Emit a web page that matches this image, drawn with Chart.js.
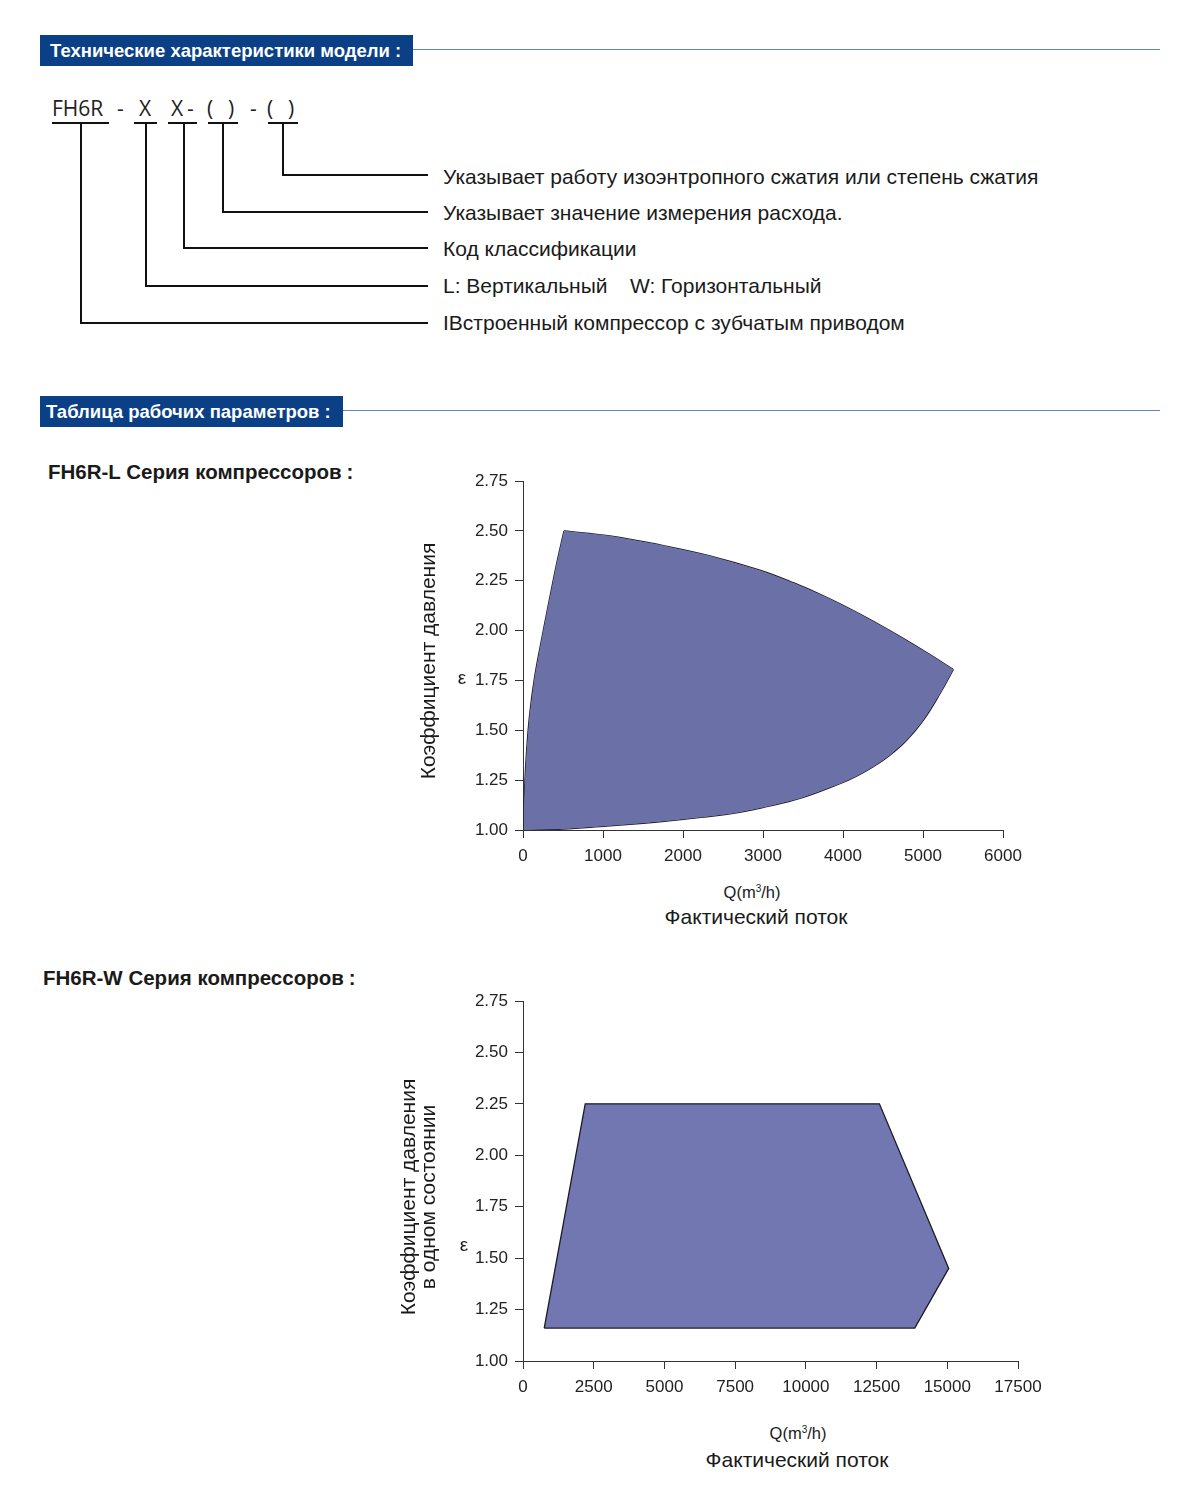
<!DOCTYPE html>
<html>
<head>
<meta charset="utf-8">
<script src="https://cdn.jsdelivr.net/npm/chart.js@4.4.1/dist/chart.umd.min.js"></script>
<style>
body{margin:0;background:#fff;}
#page{position:relative;width:1200px;height:1501px;font-family:"Liberation Sans",Arial,sans-serif;color:#1a1a1a;overflow:hidden;}
.a{position:absolute;white-space:pre;line-height:1;}
.hbox{position:absolute;background:#0b3f86;color:#fff;font-weight:bold;font-size:18.5px;height:31px;line-height:31px;}
.hline{position:absolute;height:1px;background:#5b86c0;}
.ln{position:absolute;background:#111;}
.code{font-family:"Open Sans","Liberation Sans",sans-serif;font-size:21px;color:#222;}
.desc{font-size:21px;font-family:"Liberation Sans",Arial,sans-serif;}
.sub{font-weight:bold;font-size:20.5px;}
.c{transform:translate(-50%,-50%);}
.rot{transform:translate(-50%,-50%) rotate(-90deg);text-align:center;}
.col{margin-left:5px;}
canvas{position:absolute;}
</style>
</head>
<body>
<div id="page">
  <!-- заголовок 1 -->
  <div class="hbox" style="left:40px;top:35px;width:363px;padding-left:10px;">Технические характеристики модели<span class="col">:</span></div>
  <div class="hline" style="left:413px;top:49px;width:747px;"></div>

  <!-- схема обозначения -->
  <div class="a code" style="left:52px;top:98px;">FH6R</div>
  <div class="a code" style="left:117px;top:98px;">-</div>
  <div class="a code" style="left:139px;top:98px;">X</div>
  <div class="a code" style="left:171px;top:98px;">X</div>
  <div class="a code" style="left:187px;top:98px;">-</div>
  <div class="a code" style="left:207px;top:98px;">(</div>
  <div class="a code" style="left:228px;top:98px;">)</div>
  <div class="a code" style="left:250px;top:98px;">-</div>
  <div class="a code" style="left:267px;top:98px;">(</div>
  <div class="a code" style="left:288px;top:98px;">)</div>

  <div class="ln" style="left:52px;top:122px;width:57px;height:2px;"></div>
  <div class="ln" style="left:134px;top:122px;width:23px;height:2px;"></div>
  <div class="ln" style="left:168px;top:122px;width:29px;height:2px;"></div>
  <div class="ln" style="left:208px;top:122px;width:30px;height:2px;"></div>
  <div class="ln" style="left:268px;top:122px;width:30px;height:2px;"></div>

  <div class="ln" style="left:282px;top:122px;width:2px;height:54px;"></div>
  <div class="ln" style="left:282px;top:174px;width:146px;height:2px;"></div>
  <div class="ln" style="left:222px;top:122px;width:2px;height:90px;"></div>
  <div class="ln" style="left:222px;top:211px;width:206px;height:2px;"></div>
  <div class="ln" style="left:183px;top:122px;width:2px;height:127px;"></div>
  <div class="ln" style="left:183px;top:247px;width:245px;height:2px;"></div>
  <div class="ln" style="left:145px;top:122px;width:2px;height:165px;"></div>
  <div class="ln" style="left:145px;top:285px;width:283px;height:2px;"></div>
  <div class="ln" style="left:80px;top:122px;width:2px;height:202px;"></div>
  <div class="ln" style="left:80px;top:322px;width:348px;height:2px;"></div>

  <div class="a desc" style="left:443px;top:166px;">Указывает работу изоэнтропного сжатия или степень сжатия</div>
  <div class="a desc" style="left:443px;top:202px;">Указывает значение измерения расхода.</div>
  <div class="a desc" style="left:443px;top:238px;">Код классификации</div>
  <div class="a desc" style="left:443px;top:275px;">L: Вертикальный</div>
  <div class="a desc" style="left:630px;top:275px;">W: Горизонтальный</div>
  <div class="a desc" style="left:443px;top:312px;">IВстроенный компрессор с зубчатым приводом</div>

  <!-- заголовок 2 -->
  <div class="hbox" style="left:40px;top:396px;width:297px;padding-left:6px;">Таблица рабочих параметров<span class="col">:</span></div>
  <div class="hline" style="left:343px;top:410px;width:817px;"></div>

  <div class="a sub" style="left:48px;top:462px;">FH6R-L Серия компрессоров<span class="col">:</span></div>
  <div class="a sub" style="left:43px;top:968px;">FH6R-W Серия компрессоров<span class="col">:</span></div>

  <!-- график L -->
  <canvas id="chartL" width="660" height="410" style="left:380px;top:460px;"></canvas>
  <div class="a rot" style="left:427px;top:661px;font-size:21px;">Коэффициент давления</div>
  <div class="a c" style="left:462px;top:677px;font-size:19px;">ε</div>
  <div class="a c" style="left:752px;top:892px;font-size:16.5px;">Q(m<sup style="font-size:10px;">3</sup>/h)</div>
  <div class="a c" style="left:756px;top:916px;font-size:21px;">Фактический поток</div>

  <!-- график W -->
  <canvas id="chartW" width="680" height="420" style="left:380px;top:980px;"></canvas>
  <div class="a rot" style="left:418px;top:1197px;font-size:21px;line-height:20px;">Коэффициент давления
в одном состоянии</div>
  <div class="a c" style="left:464px;top:1244px;font-size:19px;">ε</div>
  <div class="a c" style="left:798px;top:1433px;font-size:16.5px;">Q(m<sup style="font-size:10px;">3</sup>/h)</div>
  <div class="a c" style="left:797px;top:1459px;font-size:21px;">Фактический поток</div>
</div>

<script>
// область работы FH6R-L (обход контура по часовой стрелке)
const qL   = [0, 10, 21, 42, 83, 146, 229, 312, 417, 512,
              1087, 1712, 2337, 2962, 3379, 3796, 4212, 4629, 5046, 5380,
              5212, 5004, 4796, 4587, 4379, 4170, 3962, 3462, 3046, 2629, 2212, 1796, 1379, 962, 500, 0];
const epsL = [1.00, 1.10, 1.22, 1.38, 1.58, 1.77, 1.95, 2.12, 2.33, 2.50,
              2.475, 2.43, 2.375, 2.303, 2.24, 2.167, 2.083, 1.99, 1.89, 1.805,
              1.683, 1.55, 1.45, 1.375, 1.317, 1.27, 1.232, 1.158, 1.117, 1.083, 1.063, 1.045, 1.03, 1.017, 1.005, 1.00];
// вершины-углы контура (индексы в qL/epsL): левый край, верхний край, нижний край
const cornersL = [0, 9, 19, qL.length-1];

// область работы FH6R-W
const qW   = [750, 2200, 12600, 15050, 13850, 750];
const epsW = [1.16, 2.25, 2.25, 1.45, 1.16, 1.16];

const epsTicks = [1.00, 1.25, 1.50, 1.75, 2.00, 2.25, 2.50, 2.75];
const qTicksL = [0, 1000, 2000, 3000, 4000, 5000, 6000];
const qTicksW = [0, 2500, 5000, 7500, 10000, 12500, 15000, 17500];

const tickFont = {family:"'Liberation Sans',Arial,sans-serif", size:17};
const axisCol = '#333';
const edgeCol = '#1b1b24';

function pts(xs, ys){
  return xs.map((x,i)=>({x:x, y:ys[i]}));
}

// relleno del polígono + bordes (curvos si hay esquinas definidas)
function datasetsArea(xs, ys, fillCol, corners){
  const ds = [{
    data: pts(xs, ys),
    fill:'shape',
    backgroundColor: fillCol,
    borderColor: corners ? fillCol : edgeCol,
    borderWidth: corners ? 0 : 1.3,
    pointRadius:0,
    tension:0
  }];
  if(corners){
    for(let i=0;i<corners.length-1;i++){
      const a=corners[i], b=corners[i+1]+1;
      ds.push({
        data: pts(xs.slice(a,b), ys.slice(a,b)),
        fill:false,
        borderColor: edgeCol,
        borderWidth:1.3,
        pointRadius:0,
        tension:0.4
      });
    }
  }
  return ds;
}

function crearGrafico(id, xs, ys, qTicks, fillCol, corners, yW, xH, pad){
  return new Chart(document.getElementById(id),{
    type:'line',
    data:{ datasets: datasetsArea(xs, ys, fillCol, corners) },
    options:{
      responsive:false,
      animation:false,
      devicePixelRatio:1,
      layout:{padding:pad},
      plugins:{legend:{display:false}, tooltip:{enabled:false}},
      scales:{
        x:{
          type:'linear',
          min:qTicks[0], max:qTicks[qTicks.length-1],
          afterBuildTicks: s => { s.ticks = qTicks.map(v=>({value:v})); },
          afterFit: s => { s.height = xH; },
          border:{display:true, color:axisCol, width:1},
          grid:{drawOnChartArea:false, drawTicks:true, tickLength:8, color:axisCol},
          ticks:{font:tickFont, color:'#222', padding:8, maxRotation:0, autoSkip:false, callback: v => String(v)}
        },
        y:{
          min:1, max:2.75,
          afterBuildTicks: s => { s.ticks = epsTicks.map(v=>({value:v})); },
          afterFit: s => { s.width = yW; },
          border:{display:true, color:axisCol, width:1},
          grid:{drawOnChartArea:false, drawTicks:true, tickLength:8, color:axisCol},
          ticks:{font:tickFont, color:'#222', padding:7, callback: v => Number(v).toFixed(2)}
        }
      }
    }
  });
}

crearGrafico('chartL', qL, epsL, qTicksL, '#6b70a7', cornersL, 143, 40, {top:21, right:37, left:0, bottom:0});
crearGrafico('chartW', qW, epsW, qTicksW, '#7277b1', null, 143, 39, {top:21, right:42, left:0, bottom:0});
</script>
</body>
</html>
